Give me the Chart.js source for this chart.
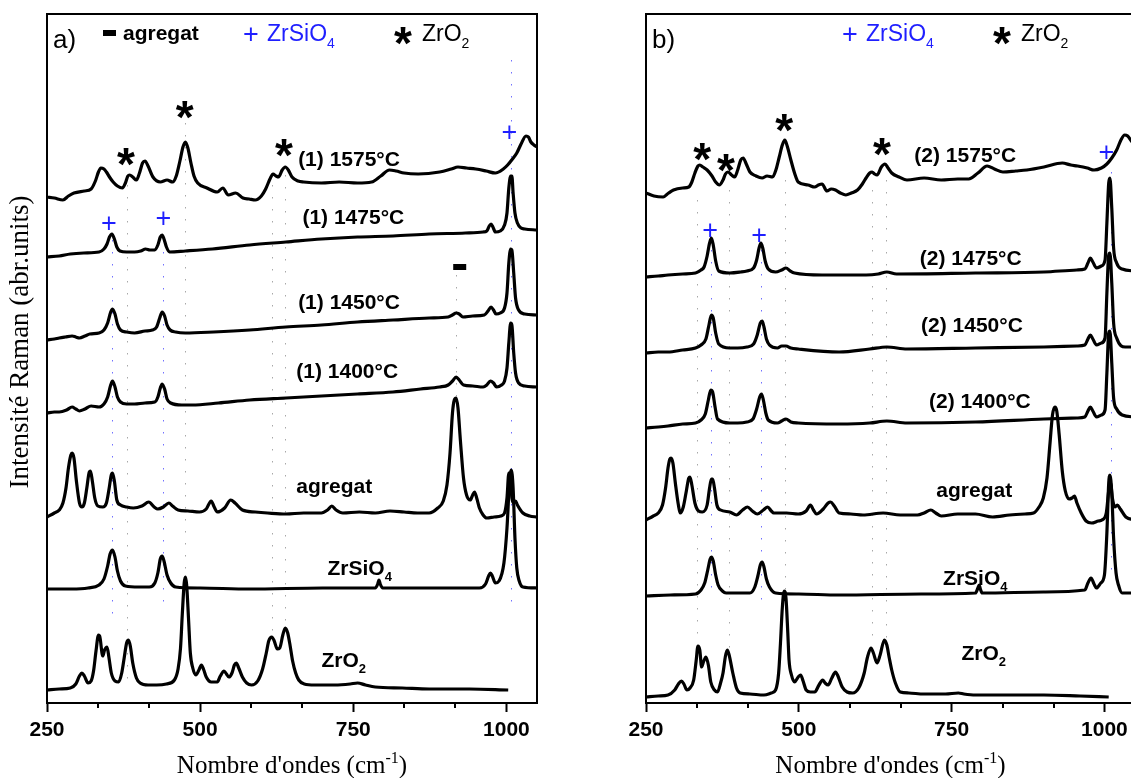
<!DOCTYPE html>
<html>
<head>
<meta charset="utf-8">
<script src="https://cdn.jsdelivr.net/npm/chart.js@4.4.0/dist/chart.umd.min.js"></script>
<style>
  html, body { margin: 0; padding: 0; overflow: hidden; background: #fff; width: 1131px; height: 778px; }
  canvas { position: absolute; top: 0; }
</style>
</head>
<body>
<canvas id="chartA" width="560" height="778" style="left:0"></canvas>
<canvas id="chartB" width="560" height="778" style="left:600px"></canvas>
<script>
"use strict";

const MAJOR_TICKS = [250, 500, 750, 1000];
const MINOR_TICKS = [333.3, 416.7, 583.3, 666.7, 833.3, 916.7];
const BLUE = "#1f1fff";
const DOT_BLUE = "#7070ff";
const DOT_GRAY = "#a8a8a8";

// panel a) series 1, [wavenumber, intensity]
const a1575 = [[250,506],[262,505],[276,503],[285,507],[294,510],[311,512],[322,514],[329,522],[334,531],[338,535],[343,534],[347,531],[352,526],[358,521],[365,517],[373,515],[378,520],[382,527],[385,528],[390,526],[396,523],[401,530],[406,540],[410,542],[415,537],[423,526],[435,521],[446,523],[455,521],[461,527],[467,542],[472,556],[476,561],[480,555],[485,540],[490,527],[496,520],[511,515],[528,511],[537,515],[546,508],[558,510],[570,505],[580,504],[590,503],[600,507],[607,514],[614,524],[619,529],[624,527],[628,526],[634,533],[639,536],[644,533],[650,526],[660,522],[669,521],[698,520],[727,521],[757,520],[780,521],[795,527],[809,533],[820,532],[833,530],[856,529],[891,531],[910,534],[921,536],[935,535],[950,534],[967,532],[982,530],[995,534],[1002,538],[1010,544],[1017,550],[1024,559],[1032,567],[1036,566],[1040,561],[1045,558],[1050,556]];
const a1475 = [[250,446],[270,447],[288,449],[310,450],[335,451],[343,454],[348,459],[352,466],[356,469],[360,464],[364,456],[369,452],[380,451],[393,451],[403,452],[411,454],[418,453],[426,453],[431,458],[435,466],[438,468],[441,464],[445,456],[450,451],[476,452],[520,454],[581,458],[640,461],[698,464],[757,466],[815,467],[874,469],[933,470],[962,471],[968,472],[972,477],[975,479],[978,476],[982,471],[990,472],[997,478],[1001,490],[1004,515],[1007,527],[1009,527],[1011,510],[1014,490],[1018,480],[1024,475],[1030,474],[1050,473]];
const a1450 = [[250,363],[262,364],[270,365],[280,366],[291,367],[297,366],[303,365],[312,367],[320,369],[335,370],[343,373],[349,380],[354,391],[357,394],[361,389],[365,379],[370,373],[380,371],[393,370],[410,372],[422,373],[429,376],[434,385],[438,391],[442,387],[446,378],[451,373],[460,371],[476,370],[522,371],[581,373],[640,376],[698,378],[757,381],[815,383],[874,385],[905,386],[912,388],[918,390],[923,389],[929,386],[945,387],[964,388],[970,392],[975,396],[979,393],[983,389],[990,390],[997,395],[1001,410],[1004,440],[1007,454],[1009,453],[1012,430],[1015,405],[1020,393],[1030,389],[1050,388]];
const a1400 = [[250,290],[262,291],[270,291],[282,293],[291,296],[297,294],[303,292],[312,294],[322,297],[335,296],[343,299],[349,306],[354,318],[357,322],[361,316],[365,306],[370,301],[380,299],[393,299],[410,300],[426,301],[431,306],[435,315],[438,319],[442,314],[446,304],[452,300],[470,298],[487,298],[530,300],[581,303],[640,305],[698,307],[757,309],[815,311],[860,314],[891,316],[905,318],[912,322],[918,326],[923,323],[930,318],[945,317],[962,316],[968,318],[974,322],[979,320],[984,316],[992,318],[997,322],[1001,335],[1004,360],[1007,380],[1009,378],[1012,350],[1015,330],[1020,320],[1030,317],[1050,316]];
const aAgregat = [[250,186],[262,190],[270,193],[276,200],[281,215],[285,235],[289,248],[291,250],[294,245],[298,222],[303,200],[307,196],[311,200],[315,215],[319,231],[321,232],[324,222],[328,205],[333,197],[341,196],[347,200],[351,213],[355,228],[357,230],[360,222],[364,203],[370,198],[380,196],[391,195],[405,197],[416,201],[425,196],[431,194],[440,196],[449,200],[455,197],[464,193],[480,192],[499,191],[510,194],[518,202],[523,196],[528,191],[540,195],[550,203],[557,200],[569,193],[590,191],[610,190],[640,189],[669,190],[698,190],[708,193],[715,197],[722,193],[733,190],[760,191],[786,190],[810,192],[833,191],[855,190],[874,190],[888,195],[897,202],[903,218],[908,250],[912,290],[915,303],[918,305],[921,295],[925,262],[930,225],[935,208],[941,203],[945,208],[948,211],[952,204],[956,195],[962,188],[968,185],[980,186],[991,187],[997,190],[1001,205],[1004,230],[1006,228],[1009,205],[1012,200],[1015,202],[1018,198],[1027,190],[1038,187],[1050,186]];
const aZircon = [[250,114],[290,114],[317,115],[335,118],[343,124],[349,137],[353,149],[357,153],[361,146],[365,132],[370,122],[378,117],[400,116],[417,116],[426,120],[431,130],[435,144],[438,147],[441,142],[446,128],[452,120],[460,116],[500,115],[581,114],[700,115],[786,115],[790,119],[792,123],[794,119],[798,115],[900,115],[956,115],[966,119],[971,127],[974,130],[977,127],[982,120],[988,122],[996,140],[1001,175],[1005,220],[1008,233],[1011,215],[1014,165],[1017,135],[1021,122],[1027,116],[1050,115]];
const aZirconia = [[250,13],[270,14],[288,15],[297,19],[303,27],[307,30],[311,27],[317,20],[322,22],[326,32],[330,52],[334,68],[336,67],[341,47],[344,53],[348,56],[351,46],[355,30],[361,22],[367,21],[372,30],[376,45],[380,60],[383,63],[386,57],[390,40],[396,25],[402,20],[415,18],[429,18],[445,19],[458,23],[464,34],[468,55],[471,90],[474,120],[476,126],[478,118],[481,85],[484,50],[488,35],[493,28],[498,33],[502,38],[506,33],[510,26],[518,21],[528,21],[533,27],[539,32],[543,29],[547,26],[552,30],[556,38],[559,40],[563,35],[569,26],[576,20],[584,18],[594,22],[602,34],[608,50],[612,62],[617,66],[621,62],[626,54],[630,55],[635,68],[639,75],[643,70],[647,57],[651,42],[656,30],[661,23],[670,19],[687,18],[720,18],[745,19],[757,20],[770,18],[786,16],[830,15],[874,14],[940,14],[1003,13]];

// panel b) series 2
const b1575 = [[250,510],[263,507],[278,506],[287,510],[295,513],[310,515],[320,516],[325,521],[330,530],[335,537],[338,538],[343,536],[350,533],[358,527],[364,521],[370,518],[376,523],[380,529],[384,531],[390,528],[395,526],[400,533],[405,543],[409,545],[414,539],[420,531],[430,527],[440,525],[448,527],[457,526],[463,534],[468,546],[473,558],[477,563],[481,557],[487,543],[493,530],[499,521],[515,518],[526,516],[532,518],[538,519],[546,512],[553,514],[560,513],[568,510],[577,508],[586,510],[596,513],[604,519],[610,525],[616,530],[620,531],[624,529],[628,528],[635,536],[641,539],[646,535],[652,530],[664,526],[677,523],[705,525],[733,523],[760,524],[778,524],[793,530],[808,537],[820,534],[834,531],[855,532],[873,533],[901,536],[931,540],[945,538],[956,537],[972,535],[983,533],[995,535],[1004,539],[1012,545],[1020,553],[1027,563],[1033,568],[1038,567],[1044,562],[1050,558]];
const b1475 = [[250,426],[270,427],[286,428],[310,429],[331,430],[340,433],[345,436],[350,447],[354,460],[357,465],[360,458],[364,442],[369,432],[387,430],[405,431],[415,432],[426,435],[431,443],[435,455],[438,460],[441,455],[445,442],[450,434],[462,431],[472,433],[479,435],[486,432],[493,430],[538,428],[610,428],[630,429],[644,431],[660,429],[789,430],[901,431],[955,433],[968,434],[973,440],[977,445],[981,441],[987,435],[995,437],[1001,443],[1004,480],[1007,520],[1009,525],[1012,495],[1015,455],[1020,440],[1029,434],[1050,432]];
const b1450 = [[250,350],[270,351],[286,351],[310,353],[331,355],[340,358],[348,364],[353,378],[357,388],[360,385],[364,370],[369,359],[387,355],[400,355],[415,356],[426,359],[432,368],[437,380],[440,382],[443,376],[447,364],[452,358],[465,355],[472,357],[479,357],[487,355],[499,354],[566,351],[616,354],[644,356],[677,354],[789,355],[901,356],[955,357],[968,358],[973,364],[977,368],[981,364],[987,358],[995,360],[1001,365],[1004,410],[1007,448],[1009,450],[1012,420],[1015,380],[1020,365],[1034,356],[1050,356]];
const b1400 = [[250,275],[270,276],[286,277],[310,279],[331,280],[340,283],[347,289],[352,303],[356,313],[359,311],[363,296],[367,284],[387,280],[400,280],[415,281],[425,284],[431,294],[436,306],[439,309],[442,303],[446,290],[450,283],[465,280],[472,282],[479,284],[487,281],[499,280],[566,279],[616,280],[644,282],[677,280],[789,281],[901,284],[955,285],[968,286],[973,292],[977,296],[981,292],[987,286],[995,288],[1001,293],[1004,330],[1007,370],[1009,372],[1012,340],[1015,305],[1020,294],[1029,288],[1050,286]];
const bAgregat = [[250,183],[262,187],[270,190],[277,198],[282,215],[286,235],[289,244],[291,245],[294,240],[298,220],[303,198],[306,190],[311,196],[316,212],[320,225],[322,226],[325,218],[330,200],[336,192],[342,191],[350,198],[354,215],[357,224],[359,224],[362,215],[366,198],[372,193],[387,191],[398,188],[408,193],[416,196],[424,192],[432,189],[442,193],[449,196],[455,192],[459,190],[480,190],[499,189],[512,192],[519,198],[524,193],[529,189],[540,194],[548,200],[552,201],[558,197],[566,190],[585,189],[605,188],[638,190],[666,188],[694,188],[705,190],[716,193],[724,190],[733,187],[760,189],[789,189],[817,186],[845,188],[870,189],[884,190],[893,196],[900,205],[906,225],[911,260],[915,288],[919,296],[922,292],[926,268],[931,232],[936,212],[942,204],[947,205],[951,207],[955,200],[962,190],[970,182],[979,180],[990,182],[996,183],[1003,190],[1007,212],[1010,220],[1013,205],[1017,196],[1021,198],[1026,194],[1035,186],[1050,183]];
const bZircon = [[250,107],[290,108],[331,109],[340,113],[346,120],[351,133],[355,144],[357,146],[360,142],[364,128],[368,118],[375,112],[381,110],[420,110],[428,116],[433,127],[437,138],[440,141],[443,136],[447,124],[452,116],[462,110],[500,109],[566,108],[700,109],[789,110],[793,115],[795,118],[797,114],[800,110],[900,111],[968,113],[973,120],[978,125],[983,119],[987,115],[994,120],[1000,128],[1004,170],[1007,220],[1009,228],[1012,210],[1015,165],[1019,130],[1023,118],[1029,110],[1050,110]];
const bZirconia = [[250,6],[270,7],[286,8],[297,13],[303,19],[308,22],[312,19],[317,13],[322,15],[328,23],[332,42],[335,57],[338,53],[341,36],[344,41],[348,46],[352,38],[356,21],[362,13],[367,11],[372,20],[376,30],[380,47],[383,53],[386,48],[392,30],[398,15],[404,10],[420,9],[443,8],[455,10],[462,13],[467,30],[470,60],[473,95],[476,112],[479,105],[482,70],[484,43],[488,28],[493,21],[499,26],[503,28],[507,22],[512,13],[519,11],[526,11],[533,18],[539,23],[543,20],[548,18],[554,25],[560,31],[564,27],[571,16],[579,11],[588,10],[598,15],[607,30],[612,45],[618,55],[622,50],[628,40],[633,48],[640,63],[644,58],[648,45],[652,33],[658,20],[666,11],[680,10],[705,9],[740,9],[761,10],[770,9],[789,8],[850,8],[901,8],[960,7],[1007,6]];

// reference peak lines: [wavenumber, from, to, colour]
const aPeakLines = [[356,463,83,DOT_BLUE],[380,518,20,DOT_GRAY],[439,463,93,DOT_BLUE],[476,580,126,DOT_GRAY],[618,518,66,DOT_GRAY],[638,528,75,DOT_GRAY],[917,428,305,DOT_GRAY],[1008,643,93,DOT_BLUE]];
const bPeakLines = [[333,503,63,DOT_GRAY],[356,453,110,DOT_BLUE],[386,513,53,DOT_GRAY],[438,453,103,DOT_BLUE],[478,523,113,DOT_GRAY],[619,513,63,DOT_GRAY],[643,523,63,DOT_GRAY],[1010,531,133,DOT_BLUE]];

// curve labels: [text, wavenumber, intensity]
const aLabels = [["(1) 1575°C",660,537],["(1) 1475°C",667,479],["(1) 1450°C",660,394],["(1) 1400°C",657,325],["agregat",657,210],["ZrSiO_4",708,128],["ZrO_2",698,36]];
const bLabels = [["(2) 1575°C",689,541],["(2) 1475°C",698,438],["(2) 1450°C",700,371],["(2) 1400°C",713,295],["agregat",725,206],["ZrSiO_4",736,118],["ZrO_2",766,43]];
// peak markers: [symbol, wavenumber, intensity]
const aMarks = [["*",475,593],["*",379,546],["*",637,555],["+",1005,571],["+",351,480],["+",440,485],["-",923,436]];
const bMarks = [["*",342,551],["*",381,540],["*",476,580],["*",636,556],["+",1003,551],["+",355,473],["+",435,468]];

function toXY(arr) {
    return arr.map(p => ({ x: p[0], y: p[1] }));
}

function spectrum(arr) {
    return { data: toXY(arr), borderColor: "#000", borderWidth: 3.2, pointRadius: 0, fill: false, cubicInterpolationMode: "monotone" };
}

function segs(str) {
    const out = [], re = /([_^])([^\s)]+)/g;
    let last = 0, m;
    while ((m = re.exec(str))) {
        if (m.index > last) out.push([str.slice(last, m.index), 0]);
        out.push([m[2], m[1] === "_" ? 1 : -1]);
        last = re.lastIndex;
    }
    if (last < str.length) out.push([str.slice(last), 0]);
    return out;
}

function drawRich(ctx, str, x, y, size, tpl, color, align) {
    const parts = segs(str), small = Math.round(size * 0.62);
    let w = 0;
    parts.forEach(p => { ctx.font = tpl.replace("%s", p[1] ? small : size); p.w = ctx.measureText(p[0]).width; w += p.w; });
    let cx = align === "center" ? x - w / 2 : x;
    ctx.fillStyle = color; ctx.textAlign = "left"; ctx.textBaseline = "alphabetic";
    parts.forEach(p => {
        ctx.font = tpl.replace("%s", p[1] ? small : size);
        const dy = p[1] === 1 ? size * 0.3 : (p[1] === -1 ? -size * 0.42 : 0);
        ctx.fillText(p[0], cx, y + dy);
        cx += p.w;
    });
}

function drawMark(ctx, sym, px, py, color) {
    ctx.fillStyle = color;
    if (sym === "-") { ctx.fillRect(px - 6, py - 3, 13, 6); return; }
    ctx.font = sym === "*" ? "bold 46px 'Liberation Sans'" : "27px 'Liberation Sans'";
    ctx.textAlign = "center"; ctx.textBaseline = "alphabetic";
    const m = ctx.measureText(sym);
    ctx.fillText(sym, px, py + (m.actualBoundingBoxAscent - m.actualBoundingBoxDescent) / 2);
}

const annotPlugin = {
    id: "annot",
    beforeDatasetsDraw(chart, args, o) {
        const { ctx } = chart, xs = chart.scales.x, ys = chart.scales.y;
        ctx.save();
        ctx.lineWidth = 1;
        ctx.setLineDash([1.5, 10.5]);
        o.peakLines.forEach(d => {
            const px = Math.round(xs.getPixelForValue(d[0])) + 0.5;
            ctx.strokeStyle = d[3];
            ctx.beginPath();
            ctx.moveTo(px, ys.getPixelForValue(d[1]));
            ctx.lineTo(px, ys.getPixelForValue(d[2]));
            ctx.stroke();
        });
        ctx.restore();
    },
    afterDraw(chart, args, o) {
        const { ctx, chartArea: ca } = chart, xs = chart.scales.x, ys = chart.scales.y;
        ctx.save();
        ctx.strokeStyle = "#000"; ctx.lineWidth = 2;
        ctx.strokeRect(ca.left, ca.top, ca.right - ca.left, ca.bottom - ca.top);
        MINOR_TICKS.forEach(v => {
            const px = Math.round(xs.getPixelForValue(v));
            ctx.beginPath(); ctx.moveTo(px, ca.bottom); ctx.lineTo(px, ca.bottom + 5); ctx.stroke();
        });
        o.labels.forEach(l => drawRich(ctx, l[0], xs.getPixelForValue(l[1]), ys.getPixelForValue(l[2]), 21, "bold %spx 'Liberation Sans'", "#000", "left"));
        o.marks.forEach(m => drawMark(ctx, m[0], xs.getPixelForValue(m[1]), ys.getPixelForValue(m[2]), m[0] === "+" ? BLUE : "#000"));
        // legend row
        const top = ca.top;
        drawRich(ctx, o.panel, ca.left + 6, top + 34, 26, "%spx 'Liberation Sans'", "#000", "left");
        if (o.showAgregat) {
            drawMark(ctx, "-", ca.left + 62, top + 19, "#000");
            drawRich(ctx, "agregat", ca.left + 76, top + 26, 21, "bold %spx 'Liberation Sans'", "#000", "left");
        }
        drawMark(ctx, "+", ca.left + o.legendX, top + 20, BLUE);
        drawRich(ctx, "ZrSiO_4", ca.left + o.legendX + 16, top + 27, 23, "%spx 'Liberation Sans'", BLUE, "left");
        drawMark(ctx, "*", ca.left + o.legendX + 152, top + 22, "#000");
        drawRich(ctx, "ZrO_2", ca.left + o.legendX + 171, top + 27, 23, "%spx 'Liberation Sans'", "#000", "left");
        // axis titles
        drawRich(ctx, "Nombre d'ondes (cm^-1)", (ca.left + ca.right) / 2, 773, 25, "%spx 'Liberation Serif'", "#000", "center");
        if (o.yTitle) {
            ctx.translate(28, 342);
            ctx.rotate(-Math.PI / 2);
            drawRich(ctx, o.yTitle, 0, 0, 27, "%spx 'Liberation Serif'", "#000", "center");
        }
        ctx.restore();
    }
};

function makeChart(id, series, annot, padLeft, padRight) {
    return new Chart(document.getElementById(id), {
        type: "line",
        data: { datasets: series.map(spectrum) },
        options: {
            responsive: false, animation: false, devicePixelRatio: 1,
            layout: { padding: { left: padLeft, right: padRight, top: 14, bottom: 0 } },
            plugins: { legend: { display: false }, tooltip: { enabled: false }, annot: annot },
            scales: {
                x: {
                    type: "linear", min: 250, max: 1050,
                    afterBuildTicks: s => { s.ticks = MAJOR_TICKS.map(v => ({ value: v })); },
                    afterFit: s => { s.height = 75; },
                    ticks: { color: "#000", padding: 6, maxRotation: 0, autoSkip: false,
                             callback: v => String(v),
                             font: { family: "'Liberation Sans'", size: 21, weight: "bold" } },
                    grid: { drawOnChartArea: false, tickLength: 9, tickWidth: 2, color: "#000" },
                    border: { display: true, color: "#000", width: 2 }
                },
                y: { display: false, min: 0, max: 689 }
            }
        },
        plugins: [annotPlugin]
    });
}

makeChart("chartA", [a1575, a1475, a1450, a1400, aAgregat, aZircon, aZirconia],
    { peakLines: aPeakLines, labels: aLabels, marks: aMarks, panel: "a)", showAgregat: true, legendX: 204, yTitle: "Intensité Raman (abr.units)" }, 47, 23);
makeChart("chartB", [b1575, b1475, b1450, b1400, bAgregat, bZircon, bZirconia],
    { peakLines: bPeakLines, labels: bLabels, marks: bMarks, panel: "b)", showAgregat: false, legendX: 204, yTitle: null }, 46, 25);
</script>
</body>
</html>
